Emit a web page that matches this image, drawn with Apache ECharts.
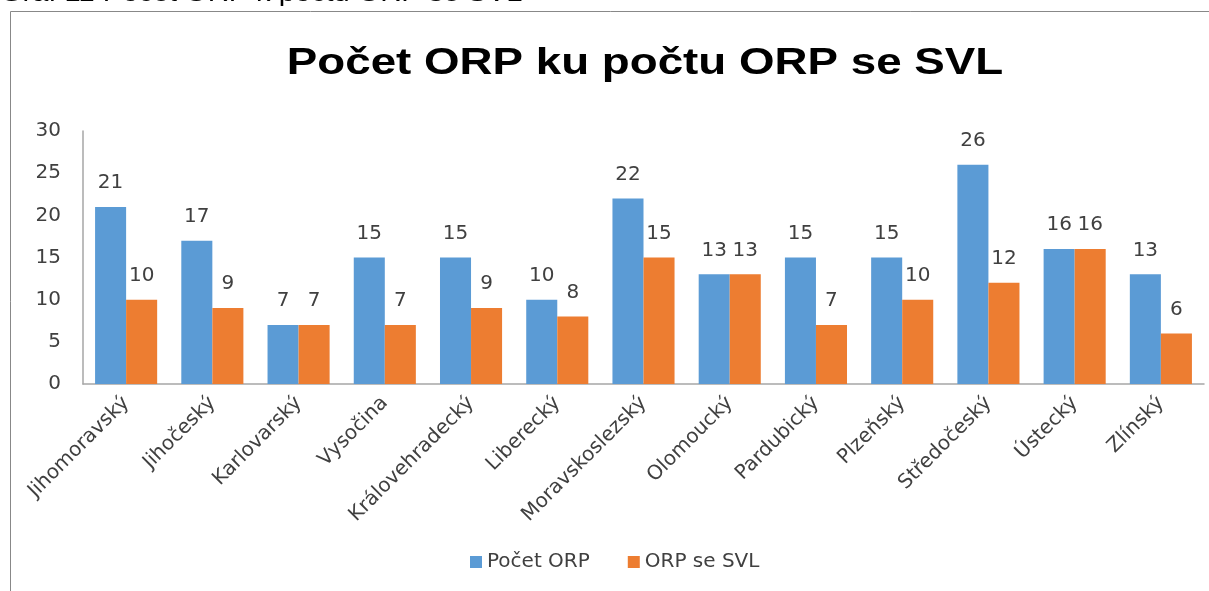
<!DOCTYPE html>
<html>
<head>
<meta charset="utf-8">
<script src="https://cdn.jsdelivr.net/npm/echarts@6/dist/echarts.min.js"></script>
<style>
html,body{margin:0;padding:0;background:#fff;}
#c{width:1209px;height:591px;}
</style>
</head>
<body>
<div id="c"></div>
<script>
const categories = ['Jihomoravský','Jihočeský','Karlovarský','Vysočina','Královehradecký','Liberecký','Moravskoslezský','Olomoucký','Pardubický','Plzeňský','Středočeský','Ústecký','Zlínský'];
const pocetORP = [21,17,7,15,15,10,22,13,15,15,26,16,13];
const orpSeSVL = [10,9,7,7,9,8,15,13,7,10,12,16,6];
const seriesNames = ['Počet ORP','ORP se SVL'];
const captionText = 'Graf 11 Počet ORP k počtu ORP se SVL';
const titleText = 'Počet ORP ku počtu ORP se SVL';

const FONT = 'DejaVu Sans';
const FS = 20;
const chart = echarts.init(document.getElementById('c'), null, {renderer:'canvas'});
const labelStyle = {show:true, position:'top', distance:14, fontFamily:FONT, fontSize:FS, color:'#404040'};
chart.setOption({
  animation:false,
  color:['#5B9BD5','#ED7D31'],
  graphic:[
    {type:'text', x:0, y:-5.5, scaleX:1.21, style:{text:captionText, fontFamily:'Liberation Sans', fontSize:24, fill:'#000', align:'left', verticalAlign:'middle'}},
    {type:'text', x:645, y:64, scaleX:1.27, style:{text:titleText, fontFamily:'Liberation Sans', fontWeight:'bold', fontSize:36, fill:'#000', align:'center', verticalAlign:'middle'}},
    {type:'rect', shape:{x:10.5, y:11.5, width:1300, height:700}, style:{fill:'none', stroke:'#888', lineWidth:1}, silent:true}
  ],
  legend:{
    data:seriesNames, bottom:14, left:465,
    icon:'rect', itemWidth:12, itemHeight:12, itemGap:38,
    textStyle:{fontFamily:FONT, fontSize:FS, color:'#404040'}
  },
  grid:{left:83, right:5, top:131, bottom:207, containLabel:false},
  xAxis:{
    type:'category', data:categories,
    axisLine:{lineStyle:{color:'#A6A6A6', width:1.5}},
    axisTick:{show:false},
    axisLabel:{rotate:45, interval:0, fontFamily:FONT, fontSize:FS, color:'#404040', margin:16}
  },
  yAxis:{
    type:'value', min:0, max:30, interval:5,
    axisLine:{show:true, lineStyle:{color:'#A6A6A6', width:1.5}},
    axisTick:{show:false},
    splitLine:{show:false},
    axisLabel:{fontFamily:FONT, fontSize:FS, color:'#404040', margin:22}
  },
  series:[
    {name:seriesNames[0], type:'bar', data:pocetORP, barGap:'0%', barCategoryGap:'28%', label:labelStyle},
    {name:seriesNames[1], type:'bar', data:orpSeSVL, label:labelStyle}
  ]
});
</script>
</body>
</html>
